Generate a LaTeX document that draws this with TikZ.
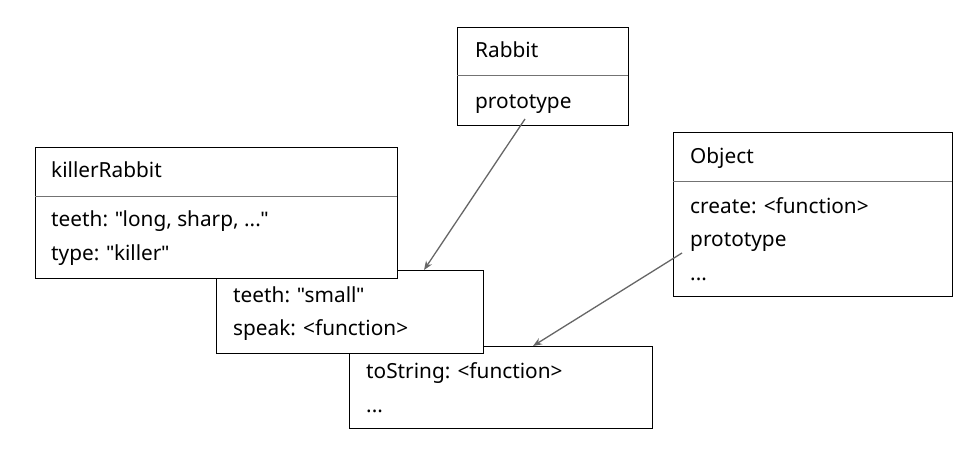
\documentclass[tikz,border=0pt]{standalone}
\usepackage{fontspec}
\setmainfont{Noto Sans}[Ligatures=ResetAll]
\newfontfamily\quotefont{Liberation Sans}[Ligatures=ResetAll]
\newcommand\dq{{\quotefont\symbol{34}}}
\usetikzlibrary{arrows.meta,calc}
\begin{document}
\begin{tikzpicture}[x=1pt,y=-1pt,
  box/.style={draw=black,line width=1.3pt,fill=white,inner sep=0pt,anchor=north west},
  divider/.style={draw=black!55,line width=1pt},
  lbl/.style={anchor=base west,inner sep=0pt,font=\fontsize{20.8}{24}\selectfont},
  link/.style={draw=black!60,line width=1.3pt,-{Stealth[length=9pt,width=7pt]}}]
\useasboundingbox (0,0) rectangle (963,459);

% shared prototype (drawn first, sits underneath)
\node[box,minimum width=303pt,minimum height=82pt] (objproto) at (349,346) {};
\node[lbl] (ts) at (366,378) {toString: <function>};
\node[lbl] (od) at (366,412) {...};

% Rabbit.prototype
\node[box,minimum width=267pt,minimum height=83pt] (rproto) at (216,270) {};
\node[lbl] (tsm) at (233,302) {teeth: \dq small\dq};
\node[lbl] (spk) at (233,335) {speak: <function>};

% killerRabbit
\node[box,minimum width=362pt,minimum height=131pt] (killer) at (35,147) {};
\draw[divider] (35,196) -- (397,196);
\node[lbl] (kname) at (51,177) {killerRabbit};
\node[lbl] (kteeth) at (51,226) {teeth: \dq long, sharp, ...\dq};
\node[lbl] (ktype) at (51,260) {type: \dq killer\dq};

% Rabbit
\node[box,minimum width=171pt,minimum height=98pt] (rabbit) at (457,27) {};
\draw[divider] (457,75) -- (628,75);
\node[lbl] (rname) at (475,57) {Rabbit};
\node[lbl] (rproto-lbl) at (475,108) {prototype};

% Object
\node[box,minimum width=279pt,minimum height=164pt] (object) at (673,132) {};
\draw[divider] (673,181) -- (952,181);
\node[lbl] (oname) at (690,163) {Object};
\node[lbl] (ocreate) at (690,213) {create: <function>};
\node[lbl] (oproto) at (690,246) {prototype};
\node[lbl] (odots) at (690,280) {...};

% prototype links
\coordinate (rsrc) at (525,119);
\coordinate (osrc) at (682,253);
\draw[link] (rsrc) -- ($(rproto.north west)+(208,0)$);
\draw[link] (osrc) -- ($(objproto.north west)+(184,0)$);
\end{tikzpicture}
\end{document}
